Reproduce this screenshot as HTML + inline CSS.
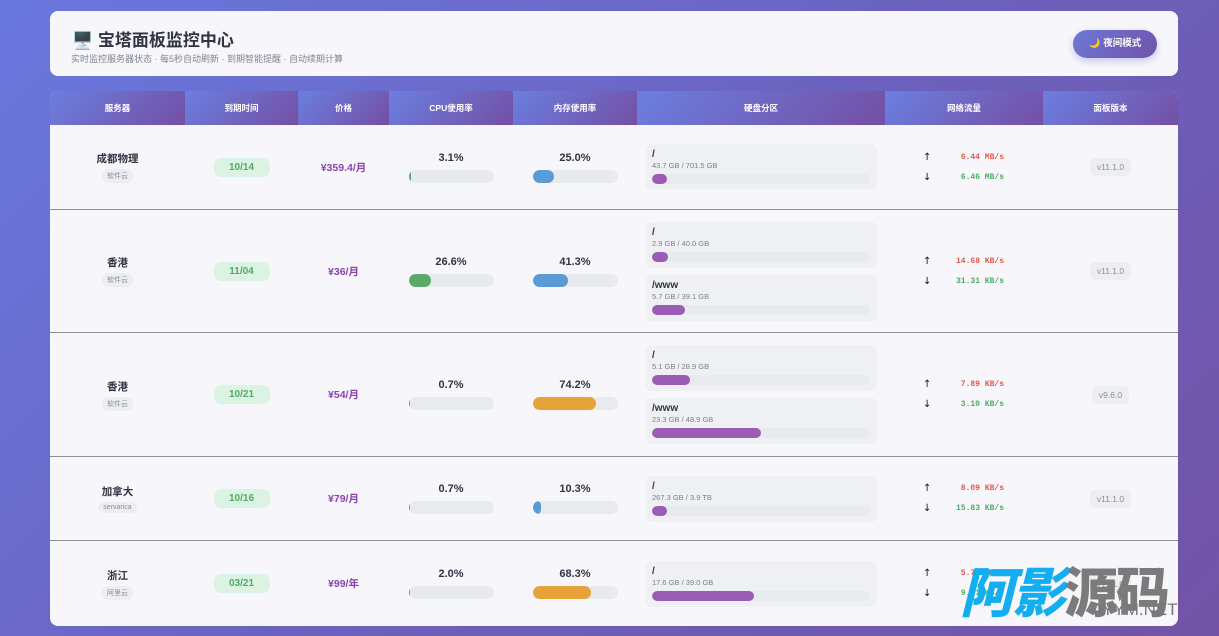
<!DOCTYPE html>
<html><head><meta charset="utf-8">
<style>
*{box-sizing:border-box;margin:0;padding:0}
body{width:1219px;height:636px;overflow:hidden;background:linear-gradient(135deg,#6a78de 0%,#6b62bf 50%,#7253a6 100%);font-family:"Liberation Sans","Noto Sans CJK SC",sans-serif;position:relative}
.hdr{position:absolute;left:50px;top:11px;width:1128px;height:65px;background:#f7f7fb;border-radius:8px}
.hdr h1{position:absolute;left:22px;top:15px;font-size:17px;color:#2f3542;font-weight:bold}
.hdr p{position:absolute;left:21px;top:41px;font-size:9px;color:#7f8590}
.btn{position:absolute;left:1023px;top:19px;width:84px;height:28px;border-radius:14px;background:linear-gradient(135deg,#6d78d8,#7152a8);color:#fff;font-size:9.5px;font-weight:bold;text-align:center;line-height:28px;box-shadow:0 3px 8px rgba(110,100,220,.35)}
.tbl{position:absolute;left:50px;top:91px;width:1128px;height:535px;background:#f7f6fb;border-radius:8px;overflow:hidden}
.th{display:flex;height:34px}
.th div{background:linear-gradient(135deg,#6b7fe0,#744fa4);color:#fff;font-size:8.5px;font-weight:bold;text-align:center;line-height:34px}
.row{display:flex;align-items:center;border-bottom:1px solid #8d8f98}
.c{display:flex;flex-direction:column;align-items:center;justify-content:center}
.name{font-size:10.5px;color:#2f3542;font-weight:bold}
.tag{margin-top:3px;font-size:7px;color:#8a8f98;background:#eceef2;border-radius:6px;padding:2px 5px}
.date{width:56px;height:19px;border-radius:7px;background:#dcf3e3;color:#4dac67;font-size:10px;font-weight:bold;text-align:center;line-height:19px}
.price{color:#8a45ad;font-size:10.5px;font-weight:bold}
.pct{font-size:11px;font-weight:bold;color:#2f3542;margin-bottom:6px}
.bar{width:85px;height:13px;border-radius:7px;background:#e8ebee;overflow:hidden}
.bar i{display:block;height:100%;border-radius:7px}
.disk{align-items:flex-start;padding-left:9px}
.db{width:231px;height:46px;background:#eff0f3;border-radius:6px;padding:5px 6px;margin:3.5px 0}
.db b{display:block;font-size:10px;color:#2f3542;line-height:11px}
.db s{display:block;text-decoration:none;font-size:7.5px;color:#7a7f88;line-height:11px}
.db .bar{width:218px;height:10px;margin-top:3px}
.db .bar i{background:#9b5cb5}
.net{font-family:"Liberation Mono","DejaVu Sans Mono",monospace;font-size:8px;font-weight:bold;display:grid;grid-template-columns:20px 61px;row-gap:9px;padding-left:38px;align-items:center}
.net .a{font-family:"DejaVu Sans",sans-serif;color:#111;font-size:10px;font-weight:normal}
.up{color:#e05a4f;text-align:right}.dn{color:#4dac67;text-align:right}
.ver{font-size:8.5px;color:#8a8f98;background:#eceef2;border-radius:5px;padding:4px 7px}
.wm{position:absolute;left:960px;top:560px;font-family:"Noto Sans CJK SC",sans-serif;font-weight:900;font-size:54px;line-height:58px;font-style:italic;letter-spacing:-2px}
</style></head><body>
<div class="hdr"><h1>🖥️ 宝塔面板监控中心</h1><p>实时监控服务器状态 · 每5秒自动刷新 · 到期智能提醒 · 自动续期计算</p><div class="btn">🌙 夜间模式</div></div>
<div class="tbl">
<div class="th"><div style="width:135px">服务器</div><div style="width:113px">到期时间</div><div style="width:91px">价格</div><div style="width:124px">CPU使用率</div><div style="width:124px">内存使用率</div><div style="width:248px">硬盘分区</div><div style="width:158px">网络流量</div><div style="width:135px">面板版本</div></div>

<div class="row" style="height:85px">
<div class="c" style="width:135px"><div class="name">成都物理</div><div class="tag">软件云</div></div>
<div class="c" style="width:113px"><div class="date">10/14</div></div>
<div class="c" style="width:91px"><div class="price">¥359.4/月</div></div>
<div class="c" style="width:124px"><div class="pct">3.1%</div><div class="bar"><i style="width:3.1%;background:#5aaa6a"></i></div></div>
<div class="c" style="width:124px"><div class="pct">25.0%</div><div class="bar"><i style="width:25%;background:#5b9bd5"></i></div></div>
<div class="c disk" style="width:248px"><div class="db"><b>/</b><s>43.7 GB / 701.5 GB</s><div class="bar"><i style="width:7%"></i></div></div></div>
<div class="net" style="width:158px"><span class="a">↑</span><span class="up">6.44 MB/s</span><span class="a">↓</span><span class="dn">6.46 MB/s</span></div>
<div class="c" style="width:135px"><span class="ver">v11.1.0</span></div>
</div>

<div class="row" style="height:123px">
<div class="c" style="width:135px"><div class="name">香港</div><div class="tag">软件云</div></div>
<div class="c" style="width:113px"><div class="date">11/04</div></div>
<div class="c" style="width:91px"><div class="price">¥36/月</div></div>
<div class="c" style="width:124px"><div class="pct">26.6%</div><div class="bar"><i style="width:26.6%;background:#5aaa6a"></i></div></div>
<div class="c" style="width:124px"><div class="pct">41.3%</div><div class="bar"><i style="width:41.3%;background:#5b9bd5"></i></div></div>
<div class="c disk" style="width:248px"><div class="db"><b>/</b><s>2.9 GB / 40.0 GB</s><div class="bar"><i style="width:7.3%"></i></div></div><div class="db"><b>/www</b><s>5.7 GB / 39.1 GB</s><div class="bar"><i style="width:15%"></i></div></div></div>
<div class="net" style="width:158px"><span class="a">↑</span><span class="up">14.68 KB/s</span><span class="a">↓</span><span class="dn">31.31 KB/s</span></div>
<div class="c" style="width:135px"><span class="ver">v11.1.0</span></div>
</div>

<div class="row" style="height:124px">
<div class="c" style="width:135px"><div class="name">香港</div><div class="tag">软件云</div></div>
<div class="c" style="width:113px"><div class="date">10/21</div></div>
<div class="c" style="width:91px"><div class="price">¥54/月</div></div>
<div class="c" style="width:124px"><div class="pct">0.7%</div><div class="bar"><i style="width:1%;background:#5aaa6a"></i></div></div>
<div class="c" style="width:124px"><div class="pct">74.2%</div><div class="bar"><i style="width:74.2%;background:#e8a23a"></i></div></div>
<div class="c disk" style="width:248px"><div class="db"><b>/</b><s>5.1 GB / 28.9 GB</s><div class="bar"><i style="width:17.6%"></i></div></div><div class="db"><b>/www</b><s>23.3 GB / 48.9 GB</s><div class="bar"><i style="width:50%"></i></div></div></div>
<div class="net" style="width:158px"><span class="a">↑</span><span class="up">7.89 KB/s</span><span class="a">↓</span><span class="dn">3.10 KB/s</span></div>
<div class="c" style="width:135px"><span class="ver">v9.6.0</span></div>
</div>

<div class="row" style="height:84px">
<div class="c" style="width:135px"><div class="name">加拿大</div><div class="tag">servarica</div></div>
<div class="c" style="width:113px"><div class="date">10/16</div></div>
<div class="c" style="width:91px"><div class="price">¥79/月</div></div>
<div class="c" style="width:124px"><div class="pct">0.7%</div><div class="bar"><i style="width:1%;background:#5aaa6a"></i></div></div>
<div class="c" style="width:124px"><div class="pct">10.3%</div><div class="bar"><i style="width:10.3%;background:#5b9bd5"></i></div></div>
<div class="c disk" style="width:248px"><div class="db"><b>/</b><s>267.3 GB / 3.9 TB</s><div class="bar"><i style="width:7%"></i></div></div></div>
<div class="net" style="width:158px"><span class="a">↑</span><span class="up">8.09 KB/s</span><span class="a">↓</span><span class="dn">15.83 KB/s</span></div>
<div class="c" style="width:135px"><span class="ver">v11.1.0</span></div>
</div>

<div class="row" style="height:85px;border-bottom:none">
<div class="c" style="width:135px"><div class="name">浙江</div><div class="tag">阿里云</div></div>
<div class="c" style="width:113px"><div class="date">03/21</div></div>
<div class="c" style="width:91px"><div class="price">¥99/年</div></div>
<div class="c" style="width:124px"><div class="pct">2.0%</div><div class="bar"><i style="width:2%;background:#5aaa6a"></i></div></div>
<div class="c" style="width:124px"><div class="pct">68.3%</div><div class="bar"><i style="width:68.3%;background:#e8a23a"></i></div></div>
<div class="c disk" style="width:248px"><div class="db"><b>/</b><s>17.6 GB / 39.0 GB</s><div class="bar"><i style="width:47%"></i></div></div></div>
<div class="net" style="width:158px"><span class="a">↑</span><span class="up">5.73 KB/s</span><span class="a">↓</span><span class="dn">9.51 KB/s</span></div>
<div class="c" style="width:135px"><span class="ver">v11.1.0</span></div>
</div>
</div>
<div class="wm"><span style="color:#12aef0">阿影</span><span style="color:#7b7b7b;font-style:normal">源码</span></div>
<div style="position:absolute;left:1092px;top:601px;font-size:17px;line-height:17px;color:#777;font-family:'Liberation Sans',sans-serif">AYYM.NET</div>
</body></html>
